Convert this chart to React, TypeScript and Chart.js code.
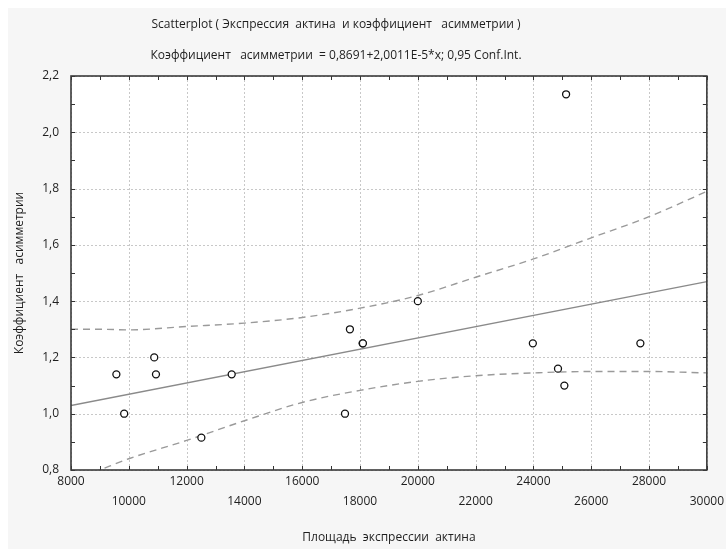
import React, { useEffect, useRef } from 'react';
import { Chart, registerables } from 'chart.js';

Chart.register(...registerables);

// Observed data points (x: площадь экспрессии актина, y: коэффициент асимметрии)
const xValues = [9570, 9840, 10880, 10940, 12510, 13560, 17480, 17650, 18090, 18100, 20000, 23980, 24850, 25070, 25130, 27700];
const yValues = [1.14, 1.0, 1.2, 1.14, 0.915, 1.14, 1.0, 1.3, 1.25, 1.25, 1.4, 1.25, 1.16, 1.1, 2.135, 1.25];

// Regression line (from the chart subtitle)
const intercept = 0.8691;
const slope = 2.0011e-5;
const fitX = [8000, 30000];

// 0.95 confidence band
const bandX = [8000, 9000, 10000, 12000, 14000, 16000, 18000, 20000, 22000, 24000, 26000, 28000, 30000];
const upperBand = [1.3, 1.3, 1.298, 1.31, 1.322, 1.342, 1.375, 1.42, 1.485, 1.55, 1.625, 1.7, 1.79];
const lowerBand = [0.76, 0.8, 0.84, 0.905, 0.975, 1.04, 1.083, 1.115, 1.135, 1.145, 1.15, 1.15, 1.145];

// Axis settings
const xMin = 8000;
const xMax = 30000;
const yMin = 0.8;
const yMax = 2.2;

const titleText = 'Scatterplot ( Экспрессия  актина  и коэффициент   асимметрии )';
const subtitleText = 'Коэффициент   асимметрии  = 0,8691+2,0011E-5*x; 0,95 Conf.Int.';
const xTitle = 'Площадь  экспрессии  актина';
const yTitle = 'Коэффициент   асимметрии';

const FONT = "'Open Sans', 'Noto Sans', sans-serif";
const TEXT = '#1e1e1e';

const isMajorX = (v: number) => Math.round(v / 1000) % 2 === 0;
const isMajorY = (v: number) => Math.round(v * 10) % 2 === 0;

const framePlugin = {
  id: 'frame',
  beforeDraw(chart: any) {
    const { ctx, chartArea: a, width, height } = chart;
    ctx.save();
    ctx.fillStyle = '#f6f6f6';
    ctx.fillRect(0, 0, width, height);
    ctx.fillStyle = '#ffffff';
    ctx.fillRect(a.left, a.top, a.right - a.left, a.bottom - a.top);
    ctx.restore();
  },
  beforeDatasetsDraw(chart: any) {
    const { ctx, chartArea: a } = chart;
    const xs = chart.scales.x;
    const ys = chart.scales.y;
    ctx.save();
    ctx.strokeStyle = '#c8c8c8';
    ctx.lineWidth = 1;
    ctx.setLineDash([2, 2]);
    ctx.beginPath();
    xs.ticks.forEach((t: any) => {
      if (!isMajorX(t.value)) return;
      const p = Math.round(xs.getPixelForValue(t.value)) + 0.5;
      ctx.moveTo(p, a.top);
      ctx.lineTo(p, a.bottom);
    });
    ys.ticks.forEach((t: any) => {
      if (!isMajorY(t.value)) return;
      const p = Math.round(ys.getPixelForValue(t.value)) + 0.5;
      ctx.moveTo(a.left, p);
      ctx.lineTo(a.right, p);
    });
    ctx.stroke();
    ctx.restore();
  },
  afterDraw(chart: any) {
    const { ctx, chartArea: a } = chart;
    const xs = chart.scales.x;
    const ys = chart.scales.y;
    ctx.save();
    // tick marks (inward, all four sides)
    ctx.strokeStyle = '#333';
    ctx.lineWidth = 1;
    ctx.beginPath();
    xs.ticks.forEach((t: any) => {
      const p = Math.round(xs.getPixelForValue(t.value)) + 0.5;
      ctx.moveTo(p, a.bottom);
      ctx.lineTo(p, a.bottom - 4);
      ctx.moveTo(p, a.top);
      ctx.lineTo(p, a.top + 4);
    });
    ys.ticks.forEach((t: any) => {
      const p = Math.round(ys.getPixelForValue(t.value)) + 0.5;
      ctx.moveTo(a.left, p);
      ctx.lineTo(a.left + 4, p);
      ctx.moveTo(a.right, p);
      ctx.lineTo(a.right - 4, p);
    });
    ctx.stroke();
    // frame
    ctx.strokeStyle = '#3a3a3a';
    ctx.lineWidth = 1.6;
    ctx.strokeRect(a.left, a.top, a.right - a.left, a.bottom - a.top);
    // titles
    ctx.fillStyle = TEXT;
    ctx.font = `12px ${FONT}`;
    ctx.textAlign = 'center';
    ctx.textBaseline = 'middle';
    ctx.fillText(titleText, 328, 17);
    ctx.fillText(subtitleText, 328, 48);
    ctx.restore();
  },
};

export default function App() {
  const ref = useRef<HTMLCanvasElement>(null);
  useEffect(() => {
    const canvas = ref.current!;
    const chart = new Chart(canvas, {
      type: 'scatter',
      data: {
        datasets: [
          {
            label: 'points',
            data: xValues.map((x, i) => ({ x, y: yValues[i] })),
            pointRadius: 3.5,
            pointBorderColor: '#111',
            pointBackgroundColor: '#fff',
            pointBorderWidth: 1.3,
            showLine: false,
            order: 0,
          },
          {
            label: 'fit',
            data: fitX.map((x) => ({ x, y: intercept + slope * x })),
            showLine: true,
            borderColor: '#8a8a8a',
            borderWidth: 1.3,
            pointRadius: 0,
            order: 1,
          },
          {
            label: 'upper',
            data: bandX.map((x, i) => ({ x, y: upperBand[i] })),
            showLine: true,
            borderColor: '#9a9a9a',
            borderDash: [7, 5],
            borderWidth: 1.4,
            pointRadius: 0,
            cubicInterpolationMode: 'monotone',
            order: 2,
          },
          {
            label: 'lower',
            data: bandX.map((x, i) => ({ x, y: lowerBand[i] })),
            showLine: true,
            borderColor: '#9a9a9a',
            borderDash: [7, 5],
            borderWidth: 1.4,
            pointRadius: 0,
            cubicInterpolationMode: 'monotone',
            order: 2,
          },
        ] as any,
      },
      options: {
        animation: false,
        responsive: true,
        maintainAspectRatio: false,
        layout: { padding: { top: 68, right: 19, left: 0, bottom: 0 } },
        plugins: { legend: { display: false }, tooltip: { enabled: false } },
        scales: {
          x: {
            type: 'linear',
            min: xMin,
            max: xMax,
            ticks: {
              stepSize: 1000,
              autoSkip: false,
              maxRotation: 0,
              minRotation: 0,
              padding: 2,
              color: TEXT,
              font: { family: FONT, size: 12, lineHeight: 1.65 },
              callback: (v: any) => {
                const n = Number(v);
                if (!isMajorX(n)) return '';
                const idx = Math.round((n - xMin) / 2000);
                return idx % 2 === 0 ? String(n) : ['', String(n)];
              },
            },
            grid: { display: false, drawTicks: false },
            border: { display: false },
            title: {
              display: true,
              text: xTitle,
              color: TEXT,
              font: { family: FONT, size: 12 },
              padding: { top: 4, bottom: 4 },
            },
            afterFit: (s: any) => {
              s.height = 79;
            },
          },
          y: {
            type: 'linear',
            min: yMin,
            max: yMax,
            ticks: {
              stepSize: 0.1,
              autoSkip: false,
              padding: 12,
              color: TEXT,
              font: { family: FONT, size: 12 },
              callback: (v: any) => {
                const n = Number(v);
                if (!isMajorY(n)) return '';
                return n.toFixed(1).replace('.', ',');
              },
            },
            grid: { display: false, drawTicks: false },
            border: { display: false },
            title: {
              display: true,
              text: yTitle,
              color: TEXT,
              font: { family: FONT, size: 12 },
              padding: { top: 4, bottom: 4 },
            },
            afterFit: (s: any) => {
              s.width = 63;
            },
          },
        },
      } as any,
      plugins: [framePlugin],
    });
    return () => chart.destroy();
  }, []);

  return (
    <div style={{ position: 'fixed', left: 8, top: 8, width: 718, height: 541 }}>
      <canvas ref={ref} />
    </div>
  );
}
